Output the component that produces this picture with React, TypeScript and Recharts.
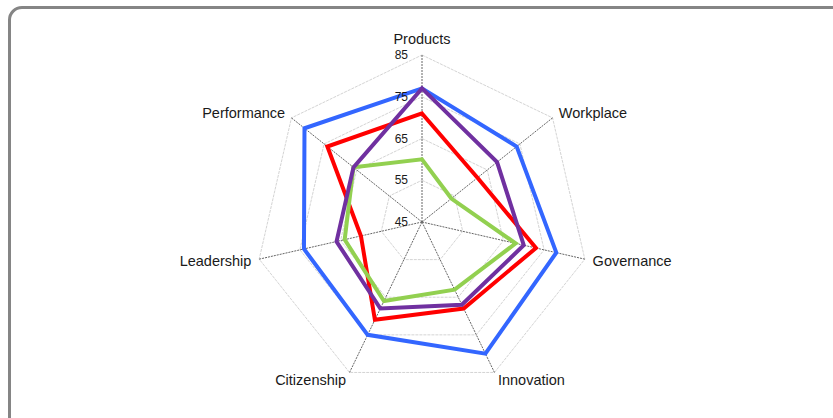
import { RadarChart, Radar, PolarGrid, PolarAngleAxis, PolarRadiusAxis } from "recharts";

const categories = ["Products", "Workplace", "Governance", "Innovation", "Citizenship", "Leadership", "Performance"];
const blueValues = [77, 74, 78, 80, 75, 74, 81];
const redValues = [71, 62, 73, 68, 71, 60, 74];
const greenValues = [60, 54, 68, 63, 66, 64, 66];
const purpleValues = [77, 68, 70, 67, 68, 66, 66];
const radiusTicks = [45, 55, 65, 75, 85];

const data = categories.map((subject, i) => ({
  subject,
  blue: blueValues[i],
  red: redValues[i],
  green: greenValues[i],
  purple: purpleValues[i],
}));

const FONT = '"Liberation Sans", Arial, sans-serif';

function AngleTick(props: any) {
  const { x, y, textAnchor, payload } = props;
  const top = textAnchor === "middle";
  return (
    <text
      x={x}
      y={top ? y - 3 : y}
      dy={top ? 0 : "0.35em"}
      textAnchor={textAnchor}
      fontFamily={FONT}
      fontSize={14.5}
      fill="#1a1a1a"
    >
      {payload.value}
    </text>
  );
}

function RadiusTick(props: any) {
  const { x, y, payload } = props;
  return (
    <text x={x - 14} y={y} dy="0.35em" textAnchor="end" fontFamily={FONT} fontSize={12} fill="#1a1a1a">
      {payload.value}
    </text>
  );
}

export default function App() {
  return (
    <div style={{ position: "fixed", left: 0, top: 0, width: 833, height: 418, overflow: "hidden", background: "#fff" }}>
      <div
        style={{
          position: "absolute",
          left: 8,
          top: 6,
          width: 860,
          height: 440,
          border: "3px solid #858585",
          borderRadius: 14,
        }}
      />
      <div style={{ position: "absolute", left: 0, top: 0 }}>
        <RadarChart
          width={833}
          height={418}
          data={data}
          cx={422}
          cy={222}
          outerRadius={167}
          margin={{ top: 0, right: 0, bottom: 0, left: 0 }}
        >
          <PolarGrid gridType="polygon" radialLines={false} stroke="#d4d4d4" strokeDasharray="3 1" />
          <PolarGrid gridType="polygon" polarRadius={[]} stroke="#666" strokeDasharray="2 1" />
          <PolarAngleAxis dataKey="subject" tick={<AngleTick />} tickLine={false} axisLine={false} />
          <PolarRadiusAxis
            angle={90}
            domain={[45, 85]}
            ticks={radiusTicks}
            tick={<RadiusTick />}
            axisLine={false}
            tickLine={false}
          />
          <Radar dataKey="blue" name="Blue" stroke="#3366ff" strokeWidth={4} fill="none" fillOpacity={0} dot={false} isAnimationActive={false} />
          <Radar dataKey="red" name="Red" stroke="#ff0000" strokeWidth={4} fill="none" fillOpacity={0} dot={false} isAnimationActive={false} />
          <Radar dataKey="green" name="Green" stroke="#92d050" strokeWidth={4} fill="none" fillOpacity={0} dot={false} isAnimationActive={false} />
          <Radar dataKey="purple" name="Purple" stroke="#7030a0" strokeWidth={4} fill="none" fillOpacity={0} dot={false} isAnimationActive={false} />
        </RadarChart>
      </div>
    </div>
  );
}
